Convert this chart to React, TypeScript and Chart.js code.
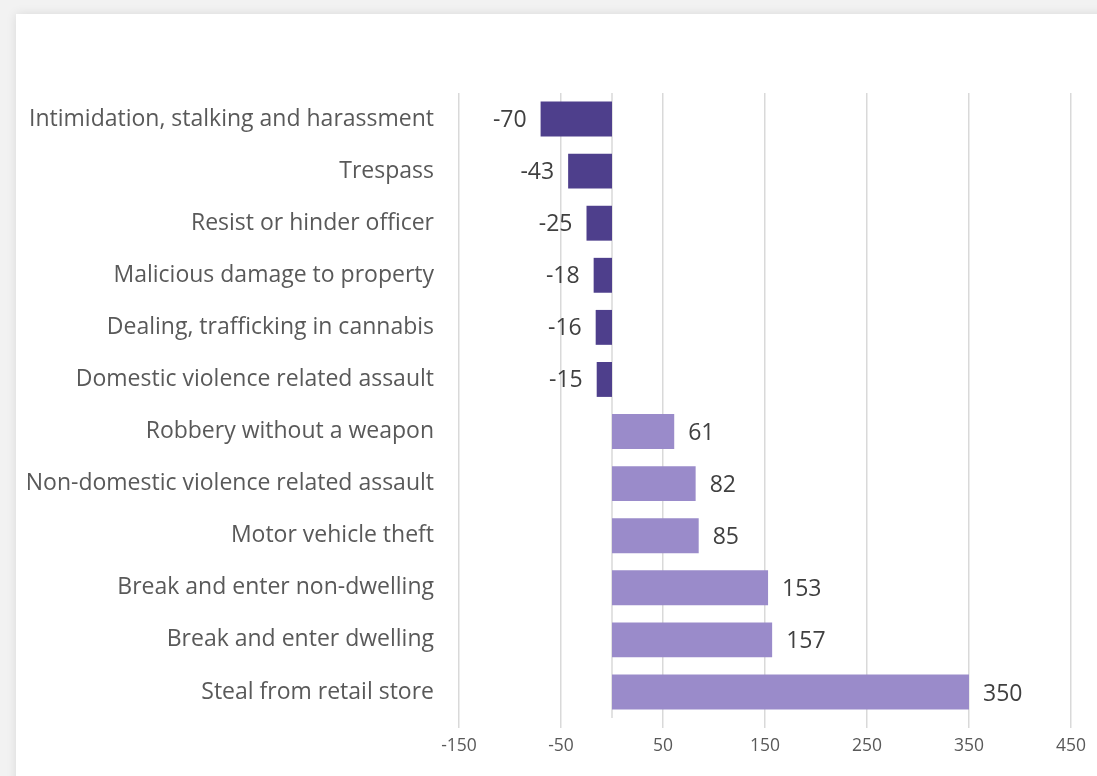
import React, { useEffect, useRef } from "react";
import { Chart, registerables } from "chart.js";

Chart.register(...registerables);

const categories = [
  "Intimidation, stalking and harassment",
  "Trespass",
  "Resist or hinder officer",
  "Malicious damage to property",
  "Dealing, trafficking in cannabis",
  "Domestic violence related assault",
  "Robbery without a weapon",
  "Non-domestic violence related assault",
  "Motor vehicle theft",
  "Break and enter non-dwelling",
  "Break and enter dwelling",
  "Steal from retail store",
];
const changes = [-70, -43, -25, -18, -16, -15, 61, 82, 85, 153, 157, 350];
const xTicks = [-150, -50, 50, 150, 250, 350, 450];

const NEG_COLOR = "#4e3f8c";
const POS_COLOR = "#9a8bca";
const FONT = "'Open Sans', sans-serif";

const labelPlugin = {
  id: "barLabels",
  afterDatasetsDraw(chart: any) {
    const ctx = chart.ctx;
    const meta = chart.getDatasetMeta(0);
    ctx.save();
    ctx.font = `23px ${FONT}`;
    ctx.fillStyle = "#404040";
    ctx.textBaseline = "middle";
    meta.data.forEach((bar: any, i: number) => {
      const v = changes[i];
      if (v < 0) {
        ctx.textAlign = "right";
        ctx.fillText(String(v), bar.x - 14, bar.y + 1);
      } else {
        ctx.textAlign = "left";
        ctx.fillText(String(v), bar.x + 14, bar.y + 2);
      }
    });
    ctx.restore();
  },
};

const zeroLinePlugin = {
  id: "zeroLine",
  beforeDatasetsDraw(chart: any) {
    const ctx = chart.ctx;
    const x = chart.scales.x.getPixelForValue(0);
    const { top, bottom } = chart.chartArea;
    ctx.save();
    ctx.strokeStyle = "#d9d9d9";
    ctx.lineWidth = 1.5;
    ctx.beginPath();
    ctx.moveTo(x, top);
    ctx.lineTo(x, bottom);
    ctx.stroke();
    ctx.restore();
  },
};

export default function App() {
  const ref = useRef<HTMLCanvasElement | null>(null);

  useEffect(() => {
    document.body.style.margin = "0";
    if (!ref.current) return;
    const chart = new Chart(ref.current, {
      type: "bar",
      data: {
        labels: categories,
        datasets: [
          {
            data: changes,
            backgroundColor: changes.map((v) => (v < 0 ? NEG_COLOR : POS_COLOR)),
            borderWidth: 0,
            categoryPercentage: 1,
            barPercentage: 0.67,
          },
        ],
      },
      options: {
        indexAxis: "y",
        animation: false,
        responsive: false,
        maintainAspectRatio: false,
        layout: { padding: { top: 79, right: 26, left: 0, bottom: 0 } },
        plugins: {
          legend: { display: false },
          tooltip: { enabled: false },
          title: { display: false },
        },
        scales: {
          x: {
            type: "linear",
            min: -150,
            max: 450,
            afterBuildTicks: (scale: any) => {
              scale.ticks = xTicks.map((v) => ({ value: v }));
            },
            afterFit: (scale: any) => {
              scale.height = 58;
            },
            grid: {
              color: "#d9d9d9",
              lineWidth: 1.5,
              drawTicks: true,
              tickLength: 10,
            },
            border: { display: false },
            ticks: {
              color: "#595959",
              font: { family: FONT, size: 17.5 },
              padding: 8,
              maxRotation: 0,
              autoSkip: false,
            },
          },
          y: {
            type: "category",
            afterFit: (scale: any) => {
              scale.width = 443;
            },
            grid: { display: false, drawTicks: false },
            border: { display: false },
            ticks: {
              color: "#595959",
              font: { family: FONT, size: 23 },
              padding: 25,
              autoSkip: false,
            },
          },
        },
      },
      plugins: [zeroLinePlugin, labelPlugin],
    });
    return () => chart.destroy();
  }, []);

  return (
    <div
      style={{
        position: "fixed",
        left: 0,
        top: 0,
        width: 1097,
        height: 776,
        background: "#f2f2f2",
        overflow: "hidden",
      }}
    >
      <div
        style={{
          position: "absolute",
          left: 16,
          top: 14,
          width: 1110,
          height: 800,
          background: "#ffffff",
          boxShadow: "0 0 10px rgba(0,0,0,0.10)",
        }}
      >
        <canvas ref={ref} width={1081} height={762} style={{ display: "block", width: 1081, height: 762 }} />
      </div>
    </div>
  );
}
